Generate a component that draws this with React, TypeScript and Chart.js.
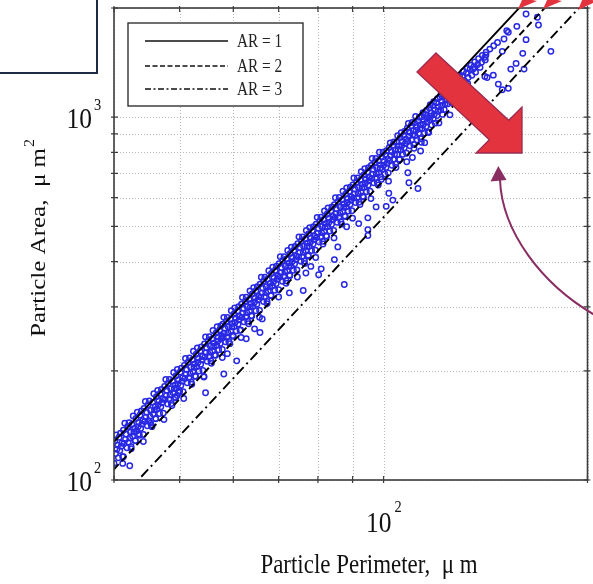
import React, { useEffect, useRef } from 'react';
import { Chart, registerables } from 'chart.js';

Chart.register(...registerables);

// ---------- axis values ----------
const xGridValues = [40, 50, 60, 70, 80, 90, 100, 200];
const yGridValues = [100, 200, 300, 400, 500, 600, 700, 800, 900, 1000, 2000];
const xLabelValues = [100];
const yLabelValues = [100, 1000];
const xTitle = 'Particle Perimeter,  \u03bc m';
const yTitle = 'Particle Area,  \u03bc m';

// ---------- reference lines (ellipse aspect ratio) ----------
const arLabels = ['AR = 1', 'AR = 2', 'AR = 3'];
const arPerimeter = [40, 200];
const ar1Area = [127.3, 3183];
const ar2Area = [107.0, 2676];
const ar3Area = [84.8, 2120];

// ---------- particle measurements [perimeter um, area um^2] ----------
const bandPoints: [number, number][] = [
  [40.3,133.2],[40.1,128.0],[40.5,124.8],[40.4,121.5],[40.2,118.3],[40.6,115.1],[40.0,111.2],
  [40.9,134.5],[40.7,131.2],[41.1,126.5],[41.0,123.9],[40.8,120.5],[41.2,115.9],
  [41.5,143.3],[41.3,137.1],[41.7,133.7],[41.6,129.6],[41.4,126.1],[41.8,122.7],[41.2,111.1],
  [42.1,143.9],[41.9,140.4],[42.3,135.5],[42.2,130.5],[42.0,127.0],[42.4,123.5],
  [42.7,150.2],[42.5,142.2],[42.9,138.6],[42.8,135.7],[42.6,132.0],[43.0,128.4],[42.4,121.9],
  [43.3,153.7],[43.1,147.7],[43.5,144.0],[43.4,140.2],[43.2,136.5],[43.6,132.8],[43.0,128.3],
  [43.9,154.9],[43.7,151.1],[44.1,145.7],[44.0,142.7],[43.8,138.8],[44.2,133.5],
  [44.5,164.7],[44.3,157.6],[44.7,153.7],[44.6,148.9],[44.4,145.0],[44.8,141.1],[44.2,127.7],
  [45.1,165.1],[44.9,161.1],[45.3,155.4],[45.2,149.8],[45.0,145.7],[45.4,141.7],
  [45.8,172.8],[45.6,163.7],[46.0,159.5],[45.9,156.1],[45.7,152.0],[46.1,147.8],[45.5,140.3],
  [46.4,176.5],[46.2,169.7],[46.6,165.4],[46.5,161.1],[46.3,156.8],[46.7,152.5],[46.1,147.4],
  [47.0,177.6],[46.8,173.2],[47.2,167.0],[47.1,163.5],[46.9,159.1],[47.3,152.9],
  [47.7,189.2],[47.5,181.1],[47.9,176.6],[47.8,171.1],[47.6,166.6],[48.0,162.1],[47.4,146.7],
  [48.3,189.4],[48.1,184.8],[48.5,178.3],[48.4,171.8],[48.2,167.1],[48.6,162.5],
  [49.0,197.8],[48.8,187.3],[49.2,182.5],[49.1,178.7],[48.9,173.9],[49.3,169.1],[48.7,160.5],
  [49.6,201.7],[49.4,193.8],[49.8,188.9],[49.7,184.1],[49.5,179.2],[49.9,174.3],[49.3,168.4],
  [50.3,203.4],[50.1,198.4],[50.5,191.3],[50.4,187.3],[50.2,182.3],[50.6,175.2],
  [51.0,216.3],[50.8,207.0],[51.2,201.8],[51.1,195.6],[50.9,190.4],[51.3,185.3],[50.7,167.7],
  [51.7,217.1],[51.5,211.7],[51.9,204.3],[51.8,196.8],[51.6,191.5],[52.0,186.2],
  [52.4,226.3],[52.2,214.2],[52.6,208.8],[52.5,204.4],[52.3,198.9],[52.7,193.5],[52.1,183.6],
  [53.1,231.1],[52.9,222.2],[53.3,216.5],[53.2,210.9],[53.0,205.3],[53.4,199.7],[52.8,193.0],
  [53.8,232.7],[53.6,226.9],[54.0,218.9],[53.9,214.3],[53.7,208.5],[54.1,200.4],
  [54.6,248.0],[54.4,237.3],[54.8,231.4],[54.7,224.2],[54.5,218.3],[54.9,212.4],[54.3,192.2],
  [55.3,248.3],[55.1,242.2],[55.5,233.7],[55.4,225.1],[55.2,219.1],[55.6,213.0],
  [56.0,258.3],[55.8,244.6],[56.2,238.4],[56.1,233.4],[55.9,227.1],[56.3,220.9],[55.7,209.7],
  [56.8,264.5],[56.6,254.2],[57.0,247.8],[56.9,241.4],[56.7,235.0],[57.1,228.6],[56.5,220.8],
  [57.5,265.8],[57.3,259.3],[57.7,250.0],[57.6,244.8],[57.4,238.2],[57.8,229.0],
  [58.1,280.8],[57.9,268.7],[58.3,262.0],[58.2,253.9],[58.0,247.2],[58.4,240.5],[57.8,217.6],
  [58.8,280.7],[58.6,273.8],[59.0,264.2],[58.9,254.6],[58.7,247.7],[59.1,240.8],
  [59.6,292.7],[59.4,277.1],[59.8,270.1],[59.7,264.4],[59.5,257.3],[59.9,250.3],[59.3,237.6],
  [60.3,298.1],[60.1,286.5],[60.5,279.3],[60.4,272.0],[60.2,264.8],[60.6,257.6],[60.0,248.9],
  [61.1,300.2],[60.9,292.7],[61.3,282.3],[61.2,276.4],[61.0,269.0],[61.4,258.6],
  [61.9,318.7],[61.7,305.0],[62.1,297.4],[62.0,288.2],[61.8,280.6],[62.2,273.0],[61.6,247.1],
  [62.7,319.2],[62.5,311.3],[62.9,300.4],[62.8,289.4],[62.6,281.6],[63.0,273.8],
  [63.5,332.2],[63.3,314.6],[63.7,306.6],[63.6,300.1],[63.4,292.1],[63.8,284.1],[63.2,269.6],
  [64.3,339.0],[64.0,325.8],[64.6,317.6],[64.5,309.4],[64.2,301.1],[64.8,292.9],[63.9,283.0],
  [65.1,340.8],[64.8,332.3],[65.4,320.5],[65.3,313.8],[65.0,305.3],[65.6,293.5],
  [66.0,362.3],[65.7,346.7],[66.3,338.0],[66.2,327.6],[65.9,319.0],[66.5,310.3],[65.6,280.8],
  [66.8,362.3],[66.5,353.4],[67.1,341.0],[67.0,328.6],[66.7,319.7],[67.3,310.8],
  [67.7,377.6],[67.4,357.5],[68.0,348.4],[67.9,341.1],[67.6,332.0],[68.2,322.8],[67.3,306.4],
  [68.6,385.8],[68.3,370.9],[68.9,361.5],[68.8,352.1],[68.5,342.8],[69.1,333.4],[68.2,322.2],
  [69.5,388.3],[69.2,378.7],[69.8,365.3],[69.7,357.6],[69.4,348.0],[70.0,334.5],
  [70.4,412.3],[70.1,394.5],[70.7,384.6],[70.6,372.8],[70.3,362.9],[70.9,353.1],[70.0,319.5],
  [71.3,412.8],[71.0,402.7],[71.6,388.5],[71.5,374.3],[71.2,364.2],[71.8,354.1],
  [72.2,429.4],[71.9,406.6],[72.5,396.2],[72.4,387.9],[72.1,377.6],[72.7,367.2],[71.8,348.5],
  [73.1,438.2],[72.8,421.1],[73.4,410.5],[73.3,399.9],[73.0,389.2],[73.6,378.6],[72.7,365.8],
  [74.0,440.3],[73.7,429.4],[74.3,414.1],[74.2,405.4],[73.9,394.5],[74.5,379.2],
  [75.0,468.0],[74.7,447.8],[75.3,436.6],[75.2,423.2],[74.9,412.0],[75.5,400.8],[74.6,362.7],
  [75.9,467.8],[75.6,456.3],[76.2,440.3],[76.1,424.2],[75.8,412.7],[76.4,401.3],
  [76.9,487.2],[76.6,461.3],[77.2,449.5],[77.1,440.1],[76.8,428.3],[77.4,416.6],[76.5,395.4],
  [77.8,496.3],[77.5,477.0],[78.1,464.9],[78.0,452.9],[77.7,440.8],[78.3,428.8],[77.4,414.3],
  [78.8,499.2],[78.5,486.9],[79.1,469.6],[79.0,459.7],[78.7,447.3],[79.3,430.0],
  [79.8,529.7],[79.5,506.9],[80.1,494.2],[80.0,479.0],[79.7,466.3],[80.3,453.7],[79.4,410.6],
  [80.8,530.1],[80.5,517.1],[81.1,498.9],[81.0,480.7],[80.7,467.7],[81.3,454.7],
  [81.8,551.2],[81.5,522.0],[82.1,508.6],[82.0,498.0],[81.7,484.7],[82.3,471.4],[81.4,447.4],
  [82.8,562.1],[82.5,540.2],[83.1,526.6],[83.0,513.0],[82.7,499.3],[83.3,485.7],[82.4,469.3],
  [83.9,565.9],[83.6,551.9],[84.2,532.3],[84.1,521.1],[83.8,507.1],[84.4,487.5],
  [84.9,599.6],[84.6,573.8],[85.2,559.5],[85.1,542.2],[84.8,527.9],[85.4,513.6],[84.5,464.8],
  [86.0,600.5],[85.7,585.8],[86.3,565.2],[86.2,544.5],[85.9,529.8],[86.5,515.1],
  [87.1,625.0],[86.8,591.8],[87.4,576.7],[87.3,564.6],[87.0,549.5],[87.6,534.5],[86.7,507.3],
  [88.2,637.8],[87.9,613.0],[88.5,597.5],[88.4,582.0],[88.1,566.6],[88.7,551.1],[87.8,532.5],
  [89.3,641.1],[89.0,625.3],[89.6,603.1],[89.5,590.4],[89.2,574.5],[89.8,552.3],
  [90.4,679.8],[90.1,650.5],[90.7,634.2],[90.6,614.7],[90.3,598.5],[90.9,582.2],[90.0,526.9],
  [91.5,679.7],[91.2,663.1],[91.8,639.7],[91.7,616.4],[91.4,599.8],[92.0,583.1],
  [92.7,707.9],[92.4,670.3],[93.0,653.2],[92.9,639.5],[92.6,622.4],[93.2,605.3],[92.3,574.6],
  [93.8,721.4],[93.5,693.4],[94.1,675.9],[94.0,658.4],[93.7,640.9],[94.3,623.4],[93.4,602.3],
  [95.0,725.6],[94.7,707.6],[95.3,682.5],[95.2,668.1],[94.9,650.2],[95.5,625.0],
  [96.2,769.7],[95.9,736.6],[96.5,718.2],[96.4,696.1],[96.1,677.7],[96.7,659.3],[95.8,596.6],
  [97.4,770.3],[97.1,751.4],[97.7,725.0],[97.6,698.6],[97.3,679.7],[97.9,660.8],
  [98.6,801.0],[98.3,758.4],[98.9,739.1],[98.8,723.6],[98.5,704.2],[99.1,684.9],[98.2,650.1],
  [99.8,800.7],[99.4,776.9],[100.2,757.1],[100.0,737.3],[99.6,717.5],[100.4,697.7],[99.2,673.9],
  [101.0,807.9],[100.6,787.6],[101.4,767.3],[101.2,747.0],[100.8,726.7],[101.6,702.4],
  [102.3,849.7],[101.9,824.7],[102.7,803.8],[102.5,783.0],[102.1,758.0],[102.9,737.2],[101.7,666.4],
  [103.6,854.3],[103.2,837.2],[104.0,811.6],[103.8,790.2],[103.4,764.6],[104.2,743.2],
  [104.9,889.0],[104.5,854.0],[105.3,832.1],[105.1,814.6],[104.7,788.3],[105.5,766.4],[104.3,727.0],
  [106.2,906.8],[105.8,879.8],[106.6,857.4],[106.4,835.0],[106.0,812.5],[106.8,790.1],[105.6,763.1],
  [107.5,915.3],[107.1,892.3],[107.9,869.3],[107.7,846.3],[107.3,823.3],[108.1,795.7],
  [108.8,961.1],[108.4,932.9],[109.2,909.3],[109.0,885.8],[108.6,857.5],[109.4,834.0],[108.2,753.8],
  [110.2,966.7],[109.8,947.4],[110.6,918.4],[110.4,894.2],[110.0,865.2],[110.8,841.0],
  [111.5,1004.4],[111.1,964.9],[111.9,940.1],[111.7,920.3],[111.3,890.6],[112.1,865.9],[110.9,821.4],
  [112.9,999.4],[112.5,974.0],[113.3,953.7],[113.1,928.4],[112.7,903.0],[113.5,872.6],
  [114.3,1029.5],[113.9,1003.5],[114.7,982.7],[114.5,956.7],[114.1,930.7],[114.9,904.7],[113.7,852.7],
  [115.7,1044.3],[115.3,1017.6],[116.1,996.3],[115.9,969.7],[115.5,943.1],[116.3,911.1],
  [117.2,1082.5],[116.8,1060.6],[117.6,1027.8],[117.4,1005.9],[117.0,984.1],[117.8,951.3],[116.6,907.5],
  [118.6,1102.8],[118.2,1074.8],[119.0,1046.8],[118.8,1018.8],[118.4,990.8],[119.2,962.9],
  [120.1,1125.1],[119.7,1096.4],[120.5,1067.7],[120.3,1039.0],[119.9,1010.3],[120.7,964.4],
  [121.6,1159.3],[121.2,1135.8],[122.0,1106.4],[121.8,1077.0],[121.4,1047.5],[122.2,1018.1],
  [123.1,1176.0],[122.7,1145.9],[123.5,1115.7],[123.3,1085.6],[122.9,1049.4],
  [124.7,1213.0],[124.3,1182.1],[125.1,1151.2],[124.9,1120.2],[124.5,1089.3],[125.3,1015.0],
  [126.3,1238.0],[125.9,1206.2],[126.7,1174.5],[126.5,1142.7],[126.1,1098.3],
  [127.9,1276.1],[127.5,1243.5],[128.3,1210.9],[128.1,1178.4],[127.7,1145.8],
  [129.5,1294.9],[129.1,1261.5],[129.9,1228.1],[129.7,1194.7],
  [131.2,1336.0],[130.8,1301.7],[131.6,1260.6],[131.4,1219.5],
  [132.9,1363.7],[132.5,1321.5],[133.3,1286.4],[133.1,1237.2],
  [134.6,1391.6],[134.2,1355.6],[135.0,1305.1],
  [136.3,1419.6],[135.9,1375.3],[136.7,1330.9],
  [138.1,1449.8],[137.7,1396.7],[139.9,1480.0],[139.5,1417.7],
  [141.7,1510.4],[141.3,1438.5],[143.5,1540.8],[145.4,1573.4],[147.3,1606.2],
];

const outlierPoints: [number, number][] = [
  [162.3,1925],[168.7,1886],[169.3,1795],[157.3,1780],[152.0,1731],[152.8,1714],
  [150.6,1643],[162.3,1636],[176.6,1519],[160.5,1500],[154.1,1357],[161.2,1357],
  [156.9,1407],[149.7,1519],[141.6,1484],[141.1,1462],[135.6,1357],[138.8,1372],
  [145.2,1306],[142.2,1287],[147.7,1234],[152.8,1201],[149.7,1190],[141.1,1295],
  [87.5,346],[76.1,333],[80.9,382],[84.6,405],[85.6,439],[88.2,499],[91.9,509],
  [94.8,528],[94.8,490],[94.8,472],[97.5,566],[100.9,568],[103.2,591],[101.8,617],
  [108.6,703],[112.4,636],[109.0,660],[110.3,774],[113.4,807],[115.0,851],
  [76.8,372],[72.6,328],[80.2,368],[78.1,388],
  [62.7,245],[65.7,255],[66.2,278],[64.5,261],[61.5,259],[54.3,193],[49.6,171],
  [50.0,176],[45.3,143.5],[43.5,134],[42.0,140],[58.8,223],[41.3,115.9],
  [42.2,109.5],[54.6,174],[58.1,196],[60.7,213],
];

const SERIF = '"Liberation Serif", "Times New Roman", serif';
const SX = 0.85; // horizontal squeeze of the original figure's text

function drawText(ctx: CanvasRenderingContext2D, text: string, x: number, y: number, font: string, align: 'left' | 'right' | 'center') {
  ctx.save();
  ctx.font = font;
  ctx.textAlign = 'left';
  ctx.textBaseline = 'alphabetic';
  const w = ctx.measureText(text).width * SX;
  const x0 = align === 'left' ? x : align === 'right' ? x - w : x - w / 2;
  ctx.translate(x0, y);
  ctx.scale(SX, 1);
  ctx.fillText(text, 0, 0);
  ctx.restore();
  return w;
}

const gridPlugin = {
  id: 'gridPlugin',
  beforeDatasetsDraw(chart: any) {
    const ctx: CanvasRenderingContext2D = chart.ctx;
    const { left, right, top, bottom } = chart.chartArea;
    const xs = chart.scales.x;
    const ys = chart.scales.y;
    ctx.save();
    ctx.strokeStyle = '#b8b8b8';
    ctx.lineWidth = 1;
    ctx.setLineDash([1, 2]);
    xGridValues.forEach((v) => {
      const px = Math.round(xs.getPixelForValue(v)) + 0.5;
      ctx.beginPath();
      ctx.moveTo(px, top);
      ctx.lineTo(px, bottom);
      ctx.stroke();
    });
    yGridValues.forEach((v) => {
      const py = Math.round(ys.getPixelForValue(v)) + 0.5;
      ctx.beginPath();
      ctx.moveTo(left, py);
      ctx.lineTo(right, py);
      ctx.stroke();
    });
    ctx.restore();
  },
};

const overlayPlugin = {
  id: 'overlayPlugin',
  afterDraw(chart: any) {
    const ctx: CanvasRenderingContext2D = chart.ctx;
    const { left, right, top, bottom } = chart.chartArea;
    const xs = chart.scales.x;
    const ys = chart.scales.y;
    ctx.save();

    // frame
    ctx.strokeStyle = '#3c3c3c';
    ctx.lineWidth = 1.6;
    ctx.setLineDash([]);
    ctx.strokeRect(left, top, right - left, bottom - top);

    // tick marks
    ctx.lineWidth = 1.2;
    xGridValues.forEach((v) => {
      const px = xs.getPixelForValue(v);
      ctx.beginPath();
      ctx.moveTo(px, bottom + 3);
      ctx.lineTo(px, bottom - 4);
      ctx.moveTo(px, top - 2);
      ctx.lineTo(px, top + 4);
      ctx.stroke();
    });
    yGridValues.forEach((v) => {
      const py = ys.getPixelForValue(v);
      ctx.beginPath();
      ctx.moveTo(left - 3, py);
      ctx.lineTo(left + 4, py);
      ctx.moveTo(right + 3, py);
      ctx.lineTo(right - 4, py);
      ctx.stroke();
    });

    // tick labels
    ctx.fillStyle = '#111';
    xLabelValues.forEach((v) => {
      const px = xs.getPixelForValue(v);
      const exp = String(Math.round(Math.log10(v)));
      drawText(ctx, '10', px + 8, bottom + 52, `30px ${SERIF}`, 'right');
      drawText(ctx, exp, px + 11, bottom + 32, `17px ${SERIF}`, 'left');
    });
    yLabelValues.forEach((v) => {
      const py = ys.getPixelForValue(v);
      const exp = String(Math.round(Math.log10(v)));
      drawText(ctx, '10', left - 22, py + 11, `30px ${SERIF}`, 'right');
      drawText(ctx, exp, left - 20, py - 7, `17px ${SERIF}`, 'left');
    });

    // axis titles
    drawText(ctx, xTitle, 369, 573, `27px ${SERIF}`, 'center');
    ctx.save();
    ctx.font = `25px ${SERIF}`;
    const wMain = ctx.measureText(yTitle).width;
    ctx.font = `16px ${SERIF}`;
    const wSup = ctx.measureText('2').width;
    const total = wMain + 1 + wSup;
    ctx.translate(45, 238);
    ctx.rotate(-Math.PI / 2);
    ctx.scale(1, SX);
    ctx.textAlign = 'left';
    ctx.textBaseline = 'alphabetic';
    ctx.font = `25px ${SERIF}`;
    ctx.fillText(yTitle, -total / 2, 0);
    ctx.font = `16px ${SERIF}`;
    ctx.fillText('2', -total / 2 + wMain + 1, -13);
    ctx.restore();

    // legend
    const lx = 128, ly = 23, lw = 175, lh = 83;
    ctx.fillStyle = '#fff';
    ctx.fillRect(lx, ly, lw, lh);
    ctx.strokeStyle = '#222';
    ctx.lineWidth = 1.3;
    ctx.strokeRect(lx, ly, lw, lh);
    const rowsY = [41, 66, 89];
    const legendDash = [[], [5, 2.5], [6, 2.5, 2, 2.5]];
    chart.data.datasets.slice(0, 3).forEach((ds: any, i: number) => {
      ctx.save();
      ctx.strokeStyle = '#111';
      ctx.lineWidth = 1.6;
      ctx.setLineDash(legendDash[i]);
      ctx.beginPath();
      ctx.moveTo(145, rowsY[i]);
      ctx.lineTo(228, rowsY[i]);
      ctx.stroke();
      ctx.restore();
      ctx.fillStyle = '#222';
      drawText(ctx, ds.label, 237, rowsY[i] + 6, `18px ${SERIF}`, 'left');
    });

    // annotation: partial box at top-left
    ctx.strokeStyle = '#1d2b45';
    ctx.lineWidth = 2;
    ctx.strokeRect(-10, -10, 107, 83);

    // annotation: big red block arrow
    ctx.beginPath();
    ctx.moveTo(436, 53);
    ctx.lineTo(508.7, 120.3);
    ctx.lineTo(522, 107);
    ctx.lineTo(522, 153);
    ctx.lineTo(476, 153);
    ctx.lineTo(489.3, 139.7);
    ctx.lineTo(417, 72);
    ctx.closePath();
    ctx.fillStyle = '#e2333f';
    ctx.fill();
    ctx.strokeStyle = '#9a2a50';
    ctx.lineWidth = 1.3;
    ctx.stroke();

    // annotation: small red arrow heads at top
    ctx.fillStyle = '#e2333f';
    [[518, 9, 523, -2, 537, 1], [543, 9, 548, -2, 562, 1], [578, 10, 583, -2, 597, 1]].forEach((t) => {
      ctx.beginPath();
      ctx.moveTo(t[0], t[1]);
      ctx.lineTo(t[2], t[3]);
      ctx.lineTo(t[4], t[5]);
      ctx.closePath();
      ctx.fill();
    });

    // annotation: purple curved arrow
    ctx.strokeStyle = '#8a2d60';
    ctx.lineWidth = 2;
    ctx.beginPath();
    ctx.moveTo(500, 180);
    ctx.bezierCurveTo(502, 230, 540, 285, 600, 318);
    ctx.stroke();
    ctx.fillStyle = '#8a2d60';
    ctx.beginPath();
    ctx.moveTo(498.3, 166);
    ctx.lineTo(490.5, 181.5);
    ctx.lineTo(506.5, 180);
    ctx.closePath();
    ctx.fill();

    ctx.restore();
  },
};

export default function App() {
  const canvasRef = useRef<HTMLCanvasElement | null>(null);

  useEffect(() => {
    if (!canvasRef.current) return;
    const toXY = (xs: number[], ys: number[]) => xs.map((x, i) => ({ x, y: ys[i] }));
    const particles = [...bandPoints, ...outlierPoints].map(([x, y]) => ({ x, y }));
    const chart = new Chart(canvasRef.current, {
      type: 'scatter',
      data: {
        datasets: [
          { label: arLabels[0], data: toXY(arPerimeter, ar1Area), showLine: true, borderColor: '#000', borderWidth: 1.9, pointRadius: 0, order: 0 },
          { label: arLabels[1], data: toXY(arPerimeter, ar2Area), showLine: true, borderColor: '#000', borderWidth: 1.9, borderDash: [7, 4], pointRadius: 0, order: 0 },
          { label: arLabels[2], data: toXY(arPerimeter, ar3Area), showLine: true, borderColor: '#000', borderWidth: 1.9, borderDash: [10, 4, 2, 4], pointRadius: 0, order: 0 },
          {
            label: 'Particles',
            data: particles,
            showLine: false,
            pointRadius: 2.7,
            pointStyle: 'circle',
            borderColor: 'rgb(40, 40, 228)',
            backgroundColor: 'rgba(0,0,0,0)',
            borderWidth: 1.5,
            order: 1,
          },
        ],
      } as any,
      options: {
        animation: false,
        responsive: false,
        events: [],
        layout: { padding: { left: 0, right: 5, top: 8, bottom: 0 } },
        plugins: { legend: { display: false }, tooltip: { enabled: false } },
        scales: {
          x: {
            type: 'logarithmic',
            min: 40,
            max: 200,
            afterBuildTicks: (s: any) => { s.ticks = xGridValues.map((value) => ({ value })); },
            afterFit: (s: any) => { s.height = 104; },
            ticks: { display: false },
            grid: { display: false },
            border: { display: false },
          },
          y: {
            type: 'logarithmic',
            min: 100,
            max: 2000,
            afterBuildTicks: (s: any) => { s.ticks = yGridValues.map((value) => ({ value })); },
            afterFit: (s: any) => { s.width = 114; },
            ticks: { display: false },
            grid: { display: false },
            border: { display: false },
          },
        },
      } as any,
      plugins: [gridPlugin, overlayPlugin],
    });
    return () => chart.destroy();
  }, []);

  return (
    <div style={{ position: 'fixed', left: 0, top: 0, width: 593, height: 584, background: '#fff' }}>
      <canvas ref={canvasRef} width={593} height={584} style={{ display: 'block' }} />
    </div>
  );
}
